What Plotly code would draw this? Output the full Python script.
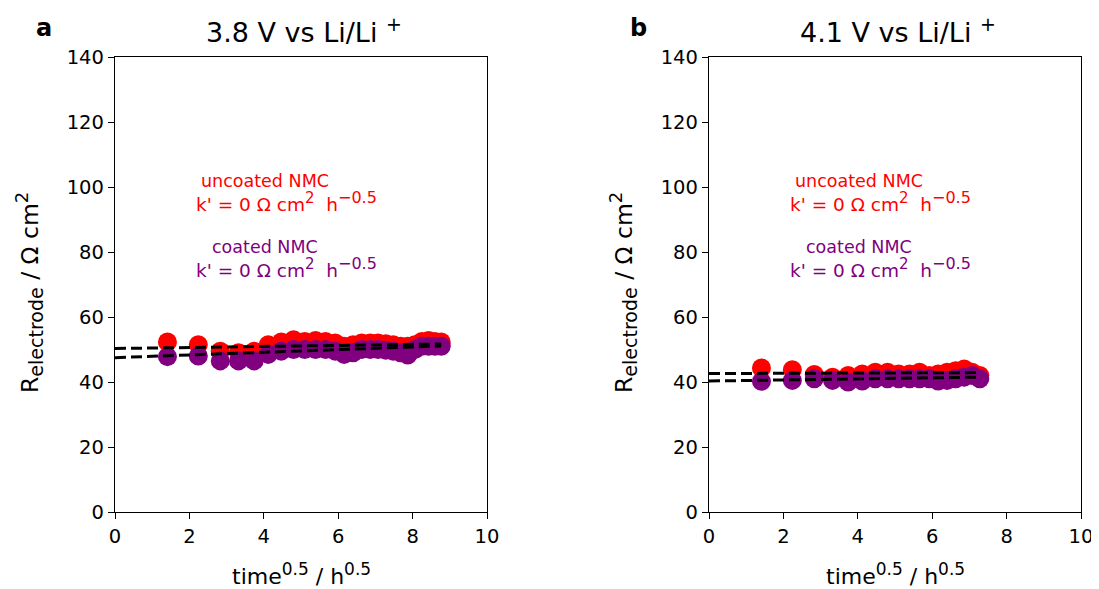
import plotly.graph_objects as go

# sqrt(time) values, h^0.5
t_a = [1.41, 2.24, 2.83, 3.32, 3.74, 4.12, 4.47, 4.80, 5.10, 5.39, 5.66, 5.92, 6.16,
       6.40, 6.63, 6.86, 7.07, 7.28, 7.48, 7.68, 7.87, 8.06, 8.25, 8.43, 8.60, 8.77]
t_b = [1.41, 2.24, 2.83, 3.32, 3.74, 4.12, 4.47, 4.80, 5.10, 5.39, 5.66, 5.92, 6.16,
       6.40, 6.63, 6.86, 7.07, 7.28]

# R_electrode / ohm cm2
unc_a = [52.3, 51.5, 49.5, 49.0, 49.5, 51.5, 52.3, 53.0, 52.5, 52.8, 52.5, 52.0, 51.0,
         51.5, 52.0, 52.0, 52.0, 51.8, 51.5, 51.0, 51.0, 51.5, 52.5, 52.8, 52.5, 52.3]
coa_a = [47.8, 48.0, 46.5, 46.5, 46.5, 48.5, 49.5, 50.0, 50.0, 50.0, 50.0, 49.5, 48.5,
         49.0, 50.0, 50.0, 50.0, 49.8, 49.5, 49.0, 48.3, 50.0, 51.0, 51.0, 51.0, 51.0]
unc_b = [44.3, 43.8, 42.3, 41.5, 42.0, 42.5, 43.0, 43.0, 42.5, 42.5, 43.0, 42.0, 42.5,
         43.0, 43.5, 44.0, 43.0, 42.0]
coa_b = [40.2, 40.5, 41.0, 40.5, 40.0, 40.3, 41.0, 41.0, 41.0, 41.0, 41.0, 41.0, 40.3,
         40.5, 41.0, 41.5, 42.0, 41.0]

# linear fits (start / end)
fit_unc_a = ([0, 8.77], [50.3, 51.7])
fit_coa_a = ([0, 8.77], [47.5, 51.1])
fit_unc_b = ([0, 7.28], [42.6, 42.9])
fit_coa_b = ([0, 7.28], [40.3, 41.5])

titles = ["3.8 V vs Li/Li <sup>+</sup>", "4.1 V vs Li/Li <sup>+</sup>"]
letters = ["a", "b"]


def sup(s, size):
    return '<sup><span style="font-size:%dpx">%s</span></sup>' % (size, s)


NB = "\u00a0"
k_text = "k'" + NB + "=" + NB + "0" + NB + "Ω" + NB + "cm" + sup("2", 15) + NB + NB + "h" + sup("−0.5", 16)

W, H = 1099, 589
OFF = 8  # page body margin
FONT = "DejaVu Sans"
RED, PURPLE = "#ff0000", "#800080"

fig = go.Figure()

panels = [
    ("x", "y", t_a, unc_a, coa_a, fit_unc_a, fit_coa_a),
    ("x2", "y2", t_b, unc_b, coa_b, fit_unc_b, fit_coa_b),
]
for xa, ya, t, unc, coa, fu, fc in panels:
    fig.add_trace(go.Scatter(x=t, y=unc, mode="markers", xaxis=xa, yaxis=ya,
                             marker=dict(color=RED, size=19, line=dict(width=0))))
    fig.add_trace(go.Scatter(x=t, y=coa, mode="markers", xaxis=xa, yaxis=ya,
                             marker=dict(color=PURPLE, size=19, line=dict(width=0))))
    for fx, fy in (fu, fc):
        fig.add_trace(go.Scatter(x=fx, y=fy, mode="lines", xaxis=xa, yaxis=ya,
                                 line=dict(color="black", width=3, dash="11px,5px")))

# pixel boxes of the two axes (screen coordinates)
boxes = [(115, 487), (709, 1081)]
top, bottom = 57, 512


def px(x):
    return (x - OFF) / W


def py(y):
    return 1 - (y - OFF) / H


axis_common = dict(showline=True, linecolor="black", linewidth=1.3, mirror=True,
                   ticks="outside", ticklen=6, tickwidth=1.3, tickcolor="black",
                   showgrid=False, zeroline=False, automargin=False,
                   tickfont=dict(family=FONT, size=19.5, color="black"))

layout = dict(width=W, height=H, showlegend=False,
              margin=dict(l=0, r=0, t=0, b=0, pad=0, autoexpand=False),
              plot_bgcolor="white", paper_bgcolor="white",
              font=dict(family=FONT, color="black"))

for i, (x0, x1) in enumerate(boxes):
    sfx = "" if i == 0 else str(i + 1)
    layout["xaxis" + sfx] = dict(axis_common, domain=[px(x0), px(x1)], range=[0, 10],
                                 tickvals=[0, 2, 4, 6, 8, 10], anchor="y" + sfx)
    layout["yaxis" + sfx] = dict(axis_common, domain=[py(bottom), py(top)],
                                 range=[0, 140], tickvals=list(range(0, 141, 20)),
                                 anchor="x" + sfx)

fig.update_layout(**layout)


def label(x, y, text, size, color="black", angle=0):
    return dict(x=px(x), y=py(y), xref="paper", yref="paper", text=text,
                xanchor="center", yanchor="middle", showarrow=False, align="center",
                textangle=angle, font=dict(family=FONT, size=size, color=color))


ann = []
for i, (x0, x1) in enumerate(boxes):
    xc = (x0 + x1) / 2
    ann.append(label(xc + 3, 30, titles[i], 27))
    ann.append(label(x0 - 71, 28, "<b>" + letters[i] + "</b>", 24))
    ann.append(label(xc, 574, "time" + sup("0.5", 17) + " / h" + sup("0.5", 17), 22))
    ann.append(label(x0 - 86, 293, "R<sub><span style=\"font-size:19px\">electrode</span></sub>"
                     " / Ω cm" + sup("2", 18), 23.5, angle=-90))
    ann.append(label(x0 + 150, 181, "uncoated NMC", 17.5, RED))
    ann.append(label(x0 + 171, 201, k_text, 18.5, RED))
    ann.append(label(x0 + 150, 247, "coated NMC", 17.5, PURPLE))
    ann.append(label(x0 + 171, 268, k_text, 18.5, PURPLE))

fig.update_layout(annotations=ann)

fig.write_html("out.html")
